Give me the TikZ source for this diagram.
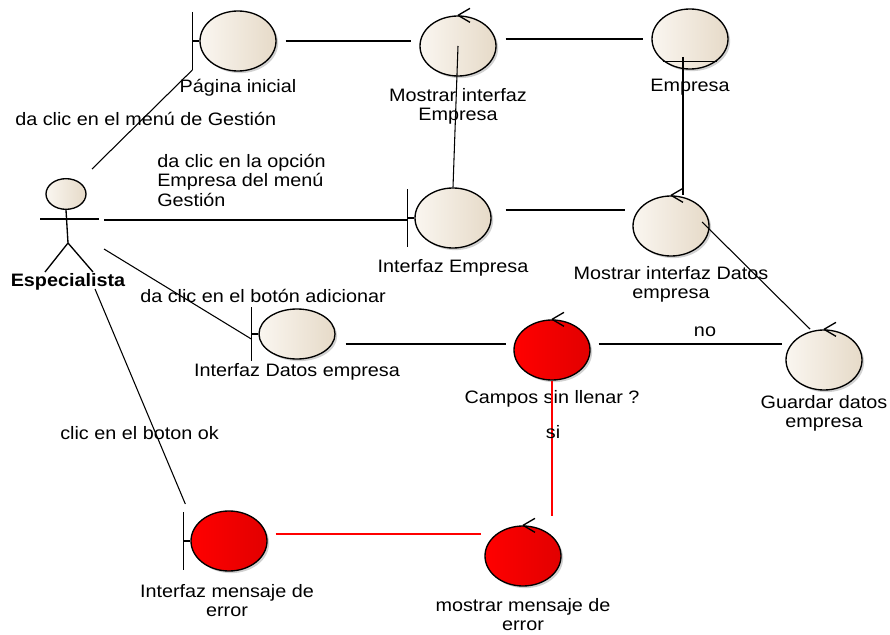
\documentclass[tikz,border=0pt]{standalone}
\usepackage{fontspec}
\setmainfont[FakeStretch=1.1]{Liberation Sans}
\usetikzlibrary{shapes.geometric,shadows,calc}

\definecolor{beigeL}{RGB}{250,246,240}
\definecolor{beigeR}{RGB}{230,218,200}
\definecolor{redL}{RGB}{255,0,0}
\definecolor{redR}{RGB}{226,0,0}

\tikzset{
  obj/.style={ellipse, draw=black, line width=1pt, inner sep=0pt,
    minimum width=57pt, minimum height=45pt,
    drop shadow={shadow xshift=1.6pt, shadow yshift=-1.6pt, fill=black!40, opacity=0.45}},
  plain/.style={obj, left color=beigeL, right color=beigeR},
  alert/.style={obj, left color=redL, right color=redR},
  lnk/.style={line width=0.8pt, draw=black},
  redlnk/.style={line width=0.8pt, draw=red},
  shape line/.style={line width=1pt, draw=black},
  txt/.style={font=\fontsize{13.5pt}{14.5pt}\selectfont, inner sep=0pt},
  lbl/.style={txt, align=center, anchor=north},
  note/.style={txt, align=left},
}

% control marker: small chevron on the top of the ellipse
\newcommand{\ctrlmark}[1]{%
  \draw[shape line] (#1.north) -- ++(12,-7) (#1.north) -- ++(12,7);}
% boundary marker: vertical bar with a short link to the ellipse
\newcommand{\bndmark}[2]{%
  \coordinate (#1-bar) at ($(#1.west)+(-7,0)$);
  \draw[shape line] ($(#1-bar)+(0,-#2)$) -- ($(#1-bar)+(0,#2)$);
  \draw[shape line] (#1-bar) -- (#1.west);}

\begin{document}
\begin{tikzpicture}[x=0.75pt,y=-0.75pt]
\useasboundingbox (0,0) rectangle (890,635);
\fill[white] (0,0) rectangle (890,635);

% ---- actor ----
\node[ellipse, draw=black, line width=1pt, inner sep=0pt, minimum width=30pt,
      minimum height=23pt, left color=beigeL, right color=beigeR] (acth) at (66,194) {};
\coordinate (hip) at (68,243);
\draw[shape line] (acth.south) -- (hip);
\draw[shape line] (40,219) -- (99,219);
\draw[shape line] (hip) -- (45,272) (hip) -- (93,272);
\node[lbl, font=\fontsize{13.5pt}{14.5pt}\selectfont\bfseries] (actl) at (68,273) {Especialista};

% ---- elements ----
\node[plain] (pi)  at (238,41)  {};
\node[plain] (mie) at (458,46)  {};
\node[plain] (emp) at (690,39)  {};
\node[plain] (ie)  at (453,218) {};
\node[plain] (mid) at (671,226) {};
\node[plain, minimum height=37.5pt] (ide) at (297,334) {};
\node[alert] (csl) at (552,350) {};
\node[plain] (gde) at (824,360) {};
\node[alert] (ime) at (229,541) {};
\node[alert] (mme) at (523,556) {};

\bndmark{pi}{29}
\bndmark{ie}{29}
\bndmark{ide}{27}
\bndmark{ime}{29}
\ctrlmark{mie}
\ctrlmark{mid}
\ctrlmark{csl}
\ctrlmark{gde}
\ctrlmark{mme}
\draw[shape line] ($(emp.south west)+(0,1)$) -- ($(emp.south east)+(0,1)$);

% ---- element names ----
\node[lbl] (pil)  at (238,79)  {Página inicial};
\node[lbl] (miel) at (458,88)  {Mostrar interfaz\\Empresa};
\node[lbl] (empl) at (690,79)  {Empresa};
\node[lbl] (iel)  at (453,259) {Interfaz Empresa};
\node[lbl] (midl) at (671,266) {Mostrar interfaz Datos\\empresa};
\node[lbl] (idel) at (297,363) {Interfaz Datos empresa};
\node[lbl] (csll) at (552,390) {Campos sin llenar ?};
\node[lbl] (gdel) at (824,395) {Guardar datos\\empresa};
\node[lbl] (imel) at (227,584) {Interfaz mensaje de\\error};
\node[lbl] (mmel) at (523,598) {mostrar mensaje de\\error};

% ---- actor links ----
\coordinate (a1) at ($(acth)+(26,-25)$);
\coordinate (a2) at ($(acth)+(38,26)$);
\coordinate (a3) at ($(acth)+(38,55)$);
\coordinate (a4) at ($(acth)+(29,95)$);
\draw[lnk] (a1) -- ($(pi-bar)+(0,29)$);
\draw[lnk] (a2) -- (a2 -| ie-bar);
\draw[lnk] (a3) -- ($(ide-bar)+(0,5)$);
\draw[lnk] (a4) -- ($(ime-bar)+(2,-37)$);

% ---- element links ----
\draw[lnk] ($(pi.east)+(9,0)$) -- ($(pi.east -| mie.west)+(-8,0)$);
\draw[lnk] ($(mie.east |- emp.west)+(9,0)$) -- ($(emp.west)+(-8,0)$);
\draw[lnk] (mie.center) -- (ie.north);
\coordinate (e1) at ($(emp.center)+(-7,18)$);
\draw[lnk] (e1) -- (e1 |- mid.north);
\draw[lnk] ($(ie.east)+(14,-8)$) -- ($(ie.east -| mid.west)+(-7,-8)$);
\draw[lnk] ($(mid.center)+(31,-4)$) -- ($(gde.center)+(-14,-31)$);
\draw[lnk] ($(ide.east |- csl.west)+(10,-6)$) -- ($(csl.west)+(-7,-6)$);
\draw[lnk] ($(csl.east)+(8,-6)$) -- ($(csl.east -| gde.west)+(-3,-6)$);
\draw[redlnk] (csl.south) -- ($(csl.south |- mme.north)+(0,-9)$);
\draw[redlnk] ($(ime.east)+(8,-7)$) -- ($(ime.east -| mme.west)+(-3,-7)$);

% ---- link texts ----
\node[note, anchor=base west] (t1) at (15,126) {da clic en el menú de Gestión};
\node[note, anchor=north west] (t2) at (157,154) {da clic en la opción\\Empresa del menú\\Gestión};
\node[note, anchor=base west] (t3) at (140,302) {da clic en el botón adicionar};
\node[note, anchor=base west] (t4) at (60,439) {clic en el boton ok};
\node[txt, anchor=base] (tno) at (705,336) {no};
\node[txt, anchor=base] (tsi) at (553,438) {si};
\end{tikzpicture}
\end{document}
